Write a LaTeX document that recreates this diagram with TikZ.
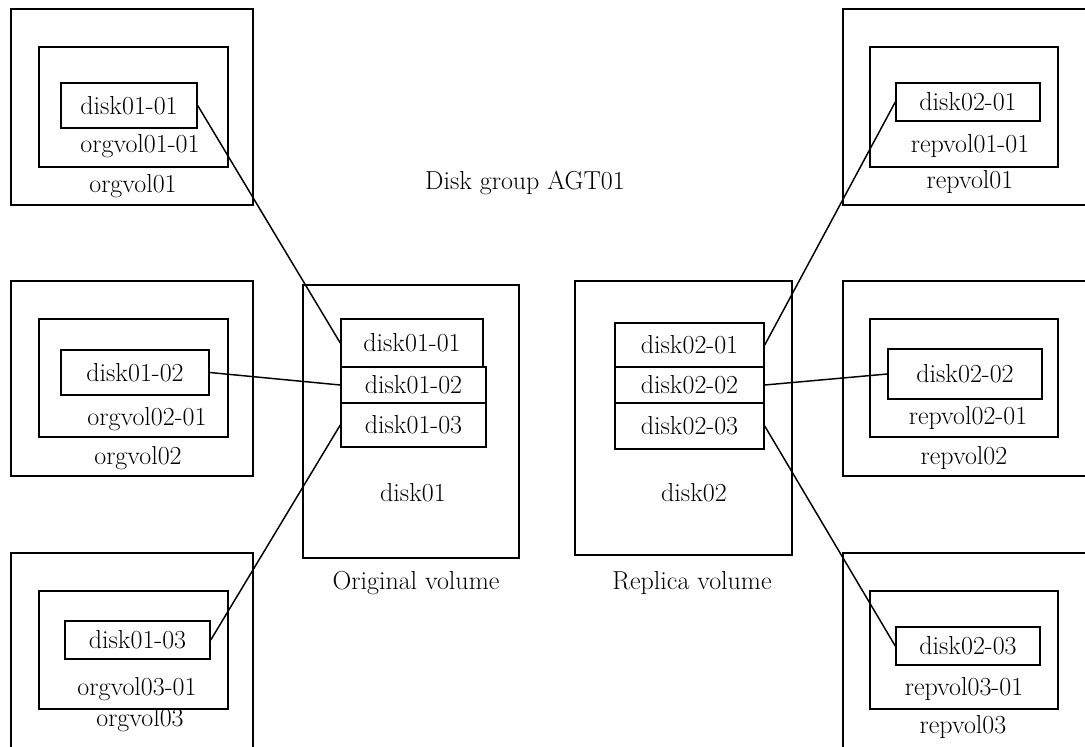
\documentclass[tikz,border=0pt]{standalone}
\usetikzlibrary{positioning, fit}

\begin{document}
\begin{tikzpicture}[
    x=0.75pt, y=-0.75pt,
    line width=1.1pt,
    every node/.style={font=\fontsize{19.5}{21}\selectfont, inner sep=0pt},
    every label/.style={font=\fontsize{19.5}{21}\selectfont, inner sep=0pt},
    frame/.style={draw, inner sep=0pt},
    disk/.style={draw, inner sep=0pt, label=center:{#1}}
]
\useasboundingbox (0,0) rectangle (1085,746);
\clip (0,0) rectangle (1085,746);

% Disk group title
\node (grp) at (525,183) {Disk group AGT01};

% Original volumes (left)
\node (og1) [frame, fit={(11,9) (253,205)}] {};
\node (oi1) [frame, fit={(39,47) (228,167)}] {};
\node (od1) [disk=disk01-01, fit={(61,83) (197,128)}] {};
\node (ov11) at (140,146) {orgvol01-01};
\node (ov1)  at (133,186) {orgvol01};

\node (og2) [frame, fit={(11,281) (253,476)}] {};
\node (oi2) [frame, fit={(39,319) (228,437)}] {};
\node (od2) [disk=disk01-02, fit={(61,350) (209,395)}] {};
\node (ov21) at (147,419) {orgvol02-01};
\node (ov2)  at (138,458) {orgvol02};

\node (og3) [frame, fit={(11,553) (253,770)}] {};
\node (oi3) [frame, fit={(39,591) (228,709)}] {};
\node (od3) [disk=disk01-03, fit={(65,621) (210,659)}] {};
\node (ov31) at (137,689) {orgvol03-01};
\node (ov3)  at (140,720) {orgvol03};

% Original volume disk
\node (cv1) [frame, fit={(303,285) (519,558)}] {};
\node (c11) [disk=disk01-01, fit={(341,319) (483,367)}] {};
\node (c12) [disk=disk01-02, fit={(341,367) (486,403)}] {};
\node (c13) [disk=disk01-03, fit={(341,403) (486,447)}] {};
\node (d1)  at (413,493) {disk01};
\node (orig) at (416,583) {Original volume};

% Replica volume disk
\node (cv2) [frame, fit={(575,281) (792,555)}] {};
\node (c21) [disk=disk02-01, fit={(615,323) (764,367)}] {};
\node (c22) [disk=disk02-02, fit={(615,367) (764,403)}] {};
\node (c23) [disk=disk02-03, fit={(615,403) (764,449)}] {};
\node (d2)  at (694,493) {disk02};
\node (repl) at (692,583) {Replica volume};

% Replica volumes (right)
\node (rg1) [frame, fit={(843,9) (1100,205)}] {};
\node (ri1) [frame, fit={(870,47) (1058,167)}] {};
\node (rd1) [disk=disk02-01, fit={(896,83) (1040,121)}] {};
\node (rv11) at (970,146) {repvol01-01};
\node (rv1)  at (970,182) {repvol01};

\node (rg2) [frame, fit={(843,281) (1100,476)}] {};
\node (ri2) [frame, fit={(870,319) (1058,437)}] {};
\node (rd2) [disk=disk02-02, fit={(888,349) (1042,399)}] {};
\node (rv21) at (968,418) {repvol02-01};
\node (rv2)  at (964,458) {repvol02};

\node (rg3) [frame, fit={(843,553) (1100,770)}] {};
\node (ri3) [frame, fit={(870,591) (1058,709)}] {};
\node (rd3) [disk=disk02-03, fit={(896,627) (1040,665)}] {};
\node (rv31) at (964,689) {repvol03-01};
\node (rv3)  at (963,727) {repvol03};

% Connections
\draw (od1.east) -- (c11.west);
\draw (od2.east) -- (c12.west);
\draw (od3.east) -- (c13.west);
\draw (c21.east) -- (rd1.west);
\draw (c22.east) -- (rd2.west);
\draw (c23.east) -- (rd3.west);

\end{tikzpicture}
\end{document}
